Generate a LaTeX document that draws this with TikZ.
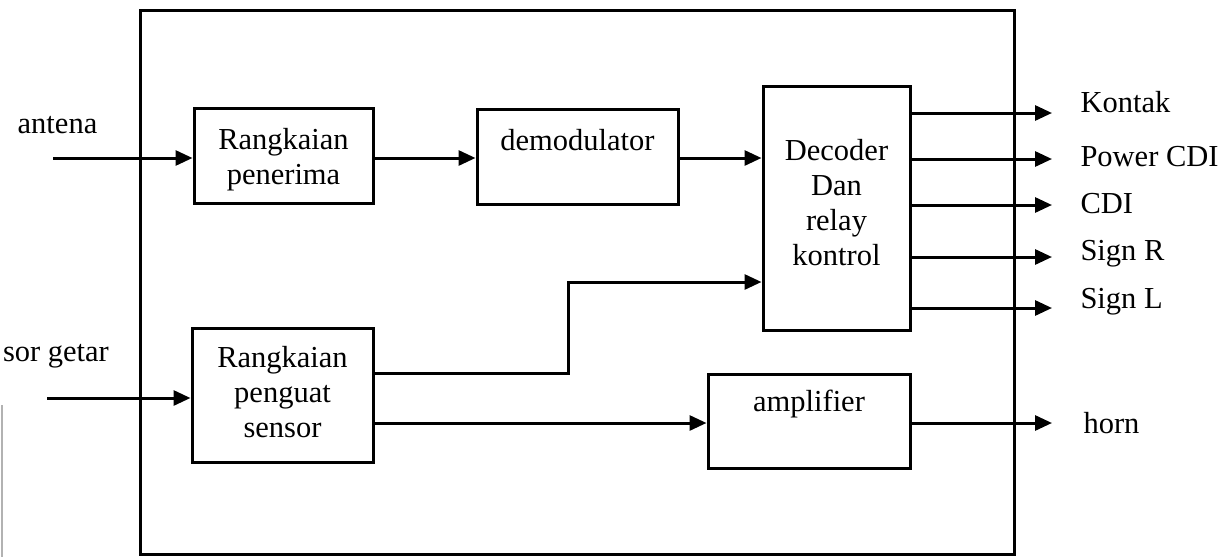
\documentclass[tikz,border=0pt]{standalone}
\usepackage{fontspec}
\setmainfont{Liberation Serif}
\usetikzlibrary{arrows.meta}
\tikzset{
  every picture/.style={line join=miter, >={Triangle[length=17pt,width=15pt]}},
  blk/.style={draw, line width=3pt, inner sep=0pt},
  txt/.style={align=center, inner sep=0pt},
  lbl/.style={inner sep=0pt, anchor=base west},
}

\begin{document}
\begin{tikzpicture}[x=1pt,y=-1pt,font=\fontsize{30.5}{35}\selectfont,line width=3pt]
\useasboundingbox (0,0) rectangle (1221,557);
% frame of the unit
\node[draw, minimum width=874pt, minimum height=544pt, inner sep=0pt] (unit) at (577,282) {};
\draw[gray!60, line width=1.2pt] (2,405) -- (2,557);
% blocks
\node[blk, minimum width=179pt, minimum height=95pt] (pen) at (283.5,155.5) {};
\node[blk, minimum width=201pt, minimum height=95pt] (demod) at (577.5,156.5) {};
\node[blk, minimum width=147pt, minimum height=244pt] (dec) at (836.5,208) {};
\node[blk, minimum width=181pt, minimum height=134pt] (peng) at (282.5,395) {};
\node[blk, minimum width=202pt, minimum height=94pt] (amp) at (809,421) {};
\node[txt] (pentxt) at (283.5,160) {Rangkaian\\penerima};
\node[txt] (demodtxt) at (577.5,140) {demodulator};
\node[txt] (dectxt) at (836.5,203) {Decoder\\Dan\\relay\\kontrol};
\node[txt] (pengtxt) at (282.5,392) {Rangkaian\\penguat\\sensor};
\node[txt] (amptxt) at (809,404) {amplifier};
% inputs
\node[inner sep=0pt, anchor=base] (ant) at (57.5,133) {antena};
\node[lbl] (sens) at (1.5,361) {sor getar};
\coordinate (antin) at (53,158);
\coordinate (sensin) at (47,398);
\draw[->] (antin) -- (antin -| pen.west);
\draw[->] (pen.east |- antin) -- (antin -| demod.west);
\draw[->] (demod.east |- antin) -- (antin -| dec.west);
\draw[->] (sensin) -- (sensin -| peng.west);
% sensor paths
\coordinate (up) at (568,373);
\coordinate (upin) at (568,282);
\draw[->] (up -| peng.east) -- (up) -- (upin) -- (upin -| dec.west);
\coordinate (lo) at (0,423);
\draw[->] (lo -| peng.east) -- (lo -| amp.west);
% outputs
\foreach \y/\b/\t [count=\i] in {113/112/Kontak, 159/166/Power CDI, 205/213/CDI, 257/260/Sign R, 308/308/Sign L}{
  \coordinate (out\i) at (1052,\y);
  \draw[->] (out\i -| dec.east) -- (out\i);
  \node[lbl] (sig\i) at (1079,\b) {\t};
}
\coordinate (horn) at (1052,423);
\draw[->] (horn -| amp.east) -- (horn);
\node[lbl] (hornl) at (1082,433) {horn};
\end{tikzpicture}
\end{document}
